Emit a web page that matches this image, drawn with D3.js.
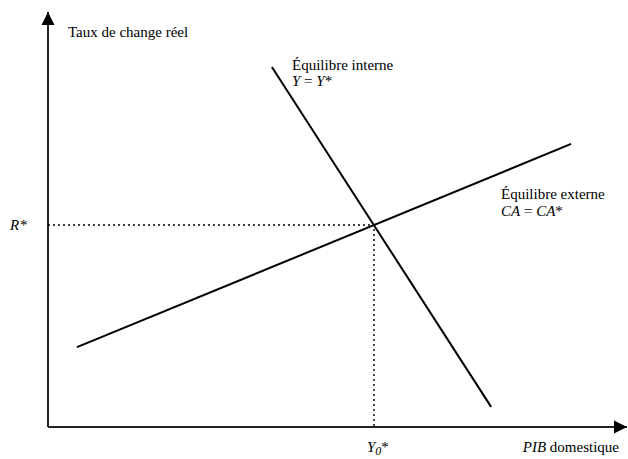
<!DOCTYPE html>
<html>
<head>
<meta charset="utf-8">
<script src="https://cdn.jsdelivr.net/npm/d3@7"></script>
<style>
  body { margin: 0; background: #fff; }
</style>
</head>
<body>
<svg width="628" height="459"></svg>
<script>
// courbes du modèle (unités arbitraires, 0..10)
const internalLine = [[3.86, 8.57], [7.64, 0.48]]; // Y = Y*
const externalLine = [[0.5, 1.9], [9.02, 6.74]];   // CA = CA*
const equilibrium = [5.62, 4.81];                   // (Y0*, R*)

const svg = d3.select("svg");

// échelles
const x = d3.scaleLinear().domain([0, 10]).range([48, 628]);
const y = d3.scaleLinear().domain([0, 10]).range([427, 7]);

// flèches
const defs = svg.append("defs");
defs.append("marker")
  .attr("id", "arrow")
  .attr("viewBox", "0 0 10 10")
  .attr("refX", 10)
  .attr("refY", 5)
  .attr("markerUnits", "userSpaceOnUse")
  .attr("markerWidth", 13)
  .attr("markerHeight", 16)
  .attr("orient", "auto")
  .append("path")
  .attr("d", "M0,0 L10,5 L0,10 Z")
  .attr("fill", "#000");

// axes
svg.append("line")
  .attr("x1", x(0)).attr("y1", y(0))
  .attr("x2", x(0)).attr("y2", 12)
  .attr("stroke", "#222")
  .attr("stroke-width", 2)
  .attr("marker-end", "url(#arrow)");

svg.append("line")
  .attr("x1", x(0)).attr("y1", y(0))
  .attr("x2", 627).attr("y2", y(0))
  .attr("stroke", "#222")
  .attr("stroke-width", 2)
  .attr("marker-end", "url(#arrow)");

// pointillés vers l'équilibre
svg.append("path")
  .attr("d", `M${x(0)},${y(equilibrium[1])} H${x(equilibrium[0])} V${y(0)}`)
  .attr("fill", "none")
  .attr("stroke", "#000")
  .attr("stroke-width", 1.4)
  .style("stroke-dasharray", "2 3");

const line = d3.line().x((d) => x(d[0])).y((d) => y(d[1]));

svg.append("path")
  .datum(internalLine)
  .attr("d", line)
  .attr("stroke", "#000")
  .attr("stroke-width", 2)
  .attr("fill", "none");

svg.append("path")
  .datum(externalLine)
  .attr("d", line)
  .attr("stroke", "#000")
  .attr("stroke-width", 2)
  .attr("fill", "none");

// textes
const labels = svg.append("g")
  .attr("font-family", "'Liberation Serif', Tinos, 'DejaVu Serif', serif")
  .attr("font-size", 15)
  .attr("fill", "#000");

labels.append("text").attr("x", 68).attr("y", 37).text("Taux de change réel");

labels.append("text").attr("x", 10).attr("y", y(equilibrium[1]) + 5)
  .attr("font-style", "italic").text("R*");

const y0 = labels.append("text").attr("x", x(equilibrium[0]) - 7).attr("y", 452);
y0.append("tspan").attr("font-style", "italic").text("Y");
y0.append("tspan").attr("font-style", "italic").attr("font-size", 12).attr("dy", 3).text("0");
y0.append("tspan").attr("dy", -3).text("*");

const pib = labels.append("text").attr("x", 619).attr("y", 452).attr("text-anchor", "end");
pib.append("tspan").attr("font-style", "italic").text("PIB");
pib.append("tspan").text(" domestique");

labels.append("text").attr("x", 292).attr("y", 70).text("Équilibre interne");
const yy = labels.append("text").attr("x", 292).attr("y", 86);
yy.append("tspan").attr("font-style", "italic").text("Y");
yy.append("tspan").text(" = ");
yy.append("tspan").attr("font-style", "italic").text("Y");
yy.append("tspan").text("*");

labels.append("text").attr("x", 501).attr("y", 199).text("Équilibre externe");
const ca = labels.append("text").attr("x", 501).attr("y", 216);
ca.append("tspan").attr("font-style", "italic").text("CA");
ca.append("tspan").text(" = ");
ca.append("tspan").attr("font-style", "italic").text("CA");
ca.append("tspan").text("*");
</script>
</body>
</html>
